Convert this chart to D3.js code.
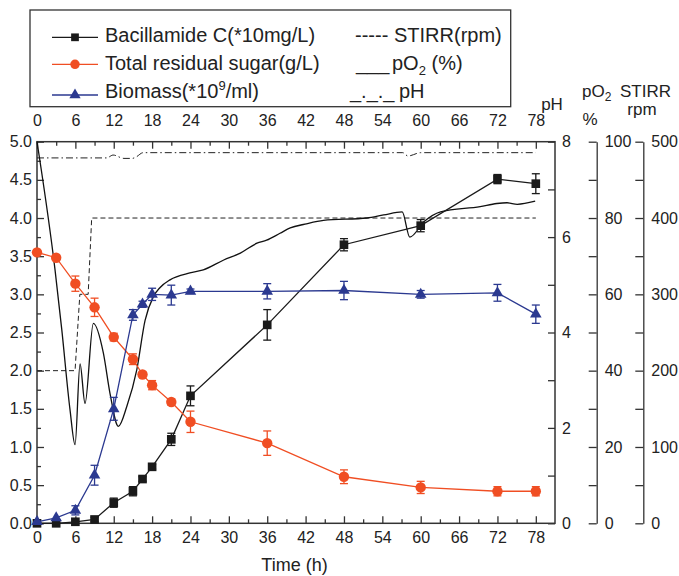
<!DOCTYPE html>
<html>
<head>
<meta charset="utf-8">
<script src="https://cdn.jsdelivr.net/npm/d3@7"></script>
<style>
  body { margin: 0; background: #fff; }
  svg text { font-family: Arial, "Liberation Sans", Helvetica, sans-serif; fill: #222; }
</style>
</head>
<body>
<svg id="chart" width="679" height="576"></svg>
<script>
// Sampling times (h) for the three measured series
const sampleTimes = [0, 3, 6, 9, 12, 15, 16.5, 18, 21, 24, 36, 48, 60, 72, 78];

// Bacillamide C (*10 mg/L)
const bacillamide = [0, 0, 0.02, 0.05, 0.27, 0.42, 0.58, 0.74, 1.1, 1.67, 2.6, 3.65, 3.9, 4.51, 4.45];
const bacillamideErr = [0, 0, 0.02, 0.03, 0.06, 0.06, 0.03, 0.03, 0.08, 0.13, 0.2, 0.08, 0.08, 0.06, 0.13];

// Total residual sugar (g/L)
const sugar = [3.55, 3.48, 3.14, 2.83, 2.44, 2.15, 1.95, 1.81, 1.59, 1.33, 1.05, 0.61, 0.47, 0.42, 0.42];
const sugarErr = [0, 0, 0.1, 0.12, 0.05, 0.07, 0.03, 0.06, 0.04, 0.14, 0.16, 0.09, 0.08, 0.06, 0.06];

// Biomass (*10^9/ml)
const biomass = [0.02, 0.07, 0.17, 0.63, 1.5, 2.73, 2.87, 3.0, 2.99, 3.04, 3.04, 3.05, 3.0, 3.02, 2.74];
const biomassErr = [0, 0, 0.06, 0.13, 0.15, 0.07, 0.04, 0.08, 0.13, 0.03, 0.1, 0.12, 0.05, 0.11, 0.12];

// Online signals: dissolved oxygen pO2 (%)
const pO2Times = [0, 2.82, 3.87, 5.16, 5.95, 6.73, 7.51, 8.81, 10.38, 11.42, 12.72, 14.04, 15.6, 16.9, 18.2,
  19.25, 20.8, 23.9, 26, 29.2, 31.8, 34.4, 35.9, 38, 39.6, 41.9, 44.8, 51.6, 54.2, 57.1, 58.3, 60.5,
  63.1, 69.3, 71.9, 73.5, 75.1, 77.9];
const pO2Values = [100, 66.4, 50.8, 29.8, 20.6, 41.8, 31.4, 52.4, 44.6, 34, 25.4, 30.6, 40.2, 53.2, 59.4,
  61.8, 63.8, 65.6, 66.4, 69, 70.8, 73.4, 74.2, 76, 77.4, 78.4, 79.4, 80, 80.8, 81.6, 75, 79,
  81.6, 83, 83.8, 84, 83.6, 84.4];

// pH
const pHTimes = [0, 10.9, 11.9, 13.6, 14.9, 15.5, 16.6, 57.2, 58, 60, 78];
const pHValues = [7.66, 7.66, 7.72, 7.65, 7.65, 7.68, 7.77, 7.77, 7.7, 7.77, 7.77];

// Stirring speed (rpm)
const stirTimes = [0, 5.95, 6.7, 8.0, 8.55, 78];
const stirValues = [200, 200, 300, 300, 400, 400];

const svg = d3.select("#chart");

const plotLeft = 37, plotRight = 555, plotTop = 141.7, plotBottom = 523.3;

const x = d3.scaleLinear().domain([0, 81]).range([plotLeft, plotRight]);
const y = d3.scaleLinear().domain([0, 5]).range([plotBottom, plotTop]);
const yPH = d3.scaleLinear().domain([0, 8]).range([plotBottom, plotTop]);
const yPO2 = d3.scaleLinear().domain([0, 100]).range([plotBottom, plotTop]);
const yStir = d3.scaleLinear().domain([0, 500]).range([plotBottom, plotTop]);

const axisColor = "#333";

function styleAxis(g, fontSize) {
  g.selectAll("path.domain").attr("stroke", axisColor).attr("stroke-width", 1.3);
  g.selectAll(".tick line").attr("stroke", axisColor).attr("stroke-width", 1.3);
  g.selectAll(".tick text").attr("font-size", fontSize).attr("fill", "#222")
    .attr("font-family", "Arial, 'Liberation Sans', Helvetica, sans-serif");
}

// Bottom axis
const bottomG = svg.append("g").attr("transform", `translate(0,${plotBottom})`);
bottomG.call(d3.axisBottom(x).tickValues(d3.range(0, 79, 6)).tickSize(-7).tickSizeOuter(0).tickPadding(8));
bottomG.append("g").call(d3.axisBottom(x).tickValues(d3.range(3, 81, 6)).tickSize(-4).tickFormat(""))
  .select("path.domain").remove();
bottomG.select("path.domain").remove();
styleAxis(bottomG, "16px");

// Top axis
const topG = svg.append("g").attr("transform", `translate(0,${plotTop})`);
topG.call(d3.axisTop(x).tickValues(d3.range(0, 79, 6)).tickSize(-7).tickSizeOuter(0).tickPadding(16));
topG.append("g").call(d3.axisTop(x).tickValues(d3.range(3, 81, 6)).tickSize(-4).tickFormat(""))
  .select("path.domain").remove();
topG.select("path.domain").remove();
styleAxis(topG, "16px");

// Left axis
const leftG = svg.append("g").attr("transform", `translate(${plotLeft},0)`);
leftG.call(d3.axisLeft(y).tickValues(d3.range(0, 5.01, 0.5)).tickSize(-7).tickPadding(5)
  .tickFormat(d3.format(".1f")));
leftG.append("g").call(d3.axisLeft(y).tickValues(d3.range(0.25, 5, 0.5)).tickSize(-4).tickFormat(""))
  .select("path.domain").remove();
leftG.select("path.domain").remove();
styleAxis(leftG, "16px");

// Right pH axis (on the frame)
const phG = svg.append("g").attr("transform", `translate(${plotRight},0)`);
phG.call(d3.axisRight(yPH).tickValues([0, 2, 4, 6, 8]).tickSize(-7).tickPadding(7));
phG.append("g").call(d3.axisRight(yPH).tickValues([1, 3, 5, 7]).tickSize(-7).tickFormat(""))
  .select("path.domain").remove();
phG.select("path.domain").remove();
styleAxis(phG, "16px");

// pO2 axis
const poG = svg.append("g").attr("transform", "translate(596.7,0)");
poG.call(d3.axisRight(yPO2).tickValues(d3.range(0, 101, 20)).tickSize(-8).tickSizeOuter(0).tickPadding(8));
poG.append("g").call(d3.axisRight(yPO2).tickValues(d3.range(10, 100, 20)).tickSize(-8).tickFormat(""))
  .select("path.domain").remove();
styleAxis(poG, "16px");

// STIRR axis
const stG = svg.append("g").attr("transform", "translate(643.3,0)");
stG.call(d3.axisRight(yStir).tickValues(d3.range(0, 501, 100)).tickSize(-8).tickSizeOuter(0).tickPadding(8));
stG.append("g").call(d3.axisRight(yStir).tickValues(d3.range(50, 500, 100)).tickSize(-8).tickFormat(""))
  .select("path.domain").remove();
styleAxis(stG, "16px");

// Plot frame
svg.append("rect")
  .attr("x", plotLeft).attr("y", plotTop)
  .attr("width", plotRight - plotLeft).attr("height", plotBottom - plotTop)
  .attr("fill", "none").attr("stroke", axisColor).attr("stroke-width", 1.5);

// Online curves
const stirLine = d3.line().x((d, i) => x(stirTimes[i])).y(d => yStir(d));
svg.append("path").datum(stirValues)
  .attr("d", stirLine).attr("fill", "none")
  .attr("stroke", "#222").attr("stroke-width", 1).attr("stroke-dasharray", "5,3");

const pHLine = d3.line().x((d, i) => x(pHTimes[i])).y(d => yPH(d)).curve(d3.curveMonotoneX);
svg.append("path").datum(pHValues)
  .attr("d", pHLine).attr("fill", "none")
  .attr("stroke", "#222").attr("stroke-width", 1).attr("stroke-dasharray", "7,3,1.5,3");

const pO2Line = d3.line().x((d, i) => x(pO2Times[i])).y(d => yPO2(d)).curve(d3.curveMonotoneX);
svg.append("path").datum(pO2Values)
  .attr("d", pO2Line).attr("fill", "none")
  .attr("stroke", "#111").attr("stroke-width", 1.3);

// Measured series
const black = "#1a1a1a", red = "#f04e23", blue = "#2b3990";

function drawSeries(values, errs, color, shape) {
  const g = svg.append("g");
  const line = d3.line().x((d, i) => x(sampleTimes[i])).y(d => y(d));
  g.append("path").datum(values).attr("d", line)
    .attr("fill", "none").attr("stroke", color).attr("stroke-width", 1.3);

  const eg = g.selectAll("g.err").data(values.map((v, i) => ({ t: sampleTimes[i], v, e: errs[i] })))
    .enter().filter(d => d.e > 0.025).append("g").attr("stroke", color).attr("stroke-width", 1.3);
  eg.append("line").attr("x1", d => x(d.t)).attr("x2", d => x(d.t))
    .attr("y1", d => y(d.v - d.e)).attr("y2", d => y(d.v + d.e));
  eg.append("line").attr("x1", d => x(d.t) - 4).attr("x2", d => x(d.t) + 4)
    .attr("y1", d => y(d.v + d.e)).attr("y2", d => y(d.v + d.e));
  eg.append("line").attr("x1", d => x(d.t) - 4).attr("x2", d => x(d.t) + 4)
    .attr("y1", d => y(d.v - d.e)).attr("y2", d => y(d.v - d.e));

  g.selectAll("path.mark").data(values).enter().append("path")
    .attr("class", "mark")
    .attr("transform", (d, i) => `translate(${x(sampleTimes[i])},${y(d)})`)
    .attr("d", d3.symbol().type(shape.type).size(shape.size))
    .attr("fill", color);
}

drawSeries(bacillamide, bacillamideErr, black, { type: d3.symbolSquare, size: 75 });
drawSeries(sugar, sugarErr, red, { type: d3.symbolCircle, size: 85 });
drawSeries(biomass, biomassErr, blue, { type: d3.symbolTriangle, size: 58 });

// Axis titles
svg.append("text").attr("x", 294.5).attr("y", 571).attr("text-anchor", "middle")
  .attr("font-size", "18px").text("Time (h)");
svg.append("text").attr("x", 552).attr("y", 110).attr("text-anchor", "middle")
  .attr("font-size", "17px").text("pH");
const pOt = svg.append("text").attr("x", 582).attr("y", 97).attr("font-size", "17px");
pOt.append("tspan").text("pO");
pOt.append("tspan").attr("font-size", "12px").attr("dy", 4).text("2");
svg.append("text").attr("x", 590).attr("y", 125).attr("text-anchor", "middle")
  .attr("font-size", "17px").text("%");
svg.append("text").attr("x", 645.5).attr("y", 97).attr("text-anchor", "middle")
  .attr("font-size", "17px").text("STIRR");
svg.append("text").attr("x", 642).attr("y", 115).attr("text-anchor", "middle")
  .attr("font-size", "17px").text("rpm");

// Legend
const legend = svg.append("g");
legend.append("rect").attr("x", 30).attr("y", 10).attr("width", 480.7).attr("height", 96.7)
  .attr("fill", "#fff").attr("stroke", axisColor).attr("stroke-width", 1.3);

const legendRows = [
  { color: black, shape: d3.symbolSquare, size: 60, ly: 37.3 },
  { color: red, shape: d3.symbolCircle, size: 70, ly: 64.3 },
  { color: blue, shape: d3.symbolTriangle, size: 55, ly: 95 }
];
legendRows.forEach(r => {
  legend.append("line").attr("x1", 52).attr("x2", 98).attr("y1", r.ly).attr("y2", r.ly)
    .attr("stroke", r.color).attr("stroke-width", 1.3);
  legend.append("path").attr("transform", `translate(75,${r.ly})`)
    .attr("d", d3.symbol().type(r.shape).size(r.size)).attr("fill", r.color);
});
legend.append("text").attr("x", 105).attr("y", 41.5).attr("font-size", "20px").text("Bacillamide C(*10mg/L)");
legend.append("text").attr("x", 105).attr("y", 70).attr("font-size", "20px").text("Total residual sugar(g/L)");
const bio = legend.append("text").attr("x", 105).attr("y", 98).attr("font-size", "20px");
bio.append("tspan").text("Biomass(*10");
bio.append("tspan").attr("font-size", "13px").attr("dy", -8).text("9");
bio.append("tspan").attr("dy", 8).text("/ml)");

legend.append("text").attr("x", 355).attr("y", 41.5).attr("font-size", "20px").text("-----");
legend.append("text").attr("x", 394).attr("y", 41.5).attr("font-size", "20px").text("STIRR(rpm)");
legend.append("text").attr("x", 356).attr("y", 70).attr("font-size", "20px").text("___");
const po = legend.append("text").attr("x", 392).attr("y", 70).attr("font-size", "20px");
po.append("tspan").text("pO");
po.append("tspan").attr("font-size", "13px").attr("dy", 5).text("2");
po.append("tspan").attr("dy", -5).text(" (%)");
legend.append("text").attr("x", 350).attr("y", 98).attr("font-size", "20px").text("_._._");
legend.append("text").attr("x", 399).attr("y", 98).attr("font-size", "20px").text("pH");
</script>
</body>
</html>
